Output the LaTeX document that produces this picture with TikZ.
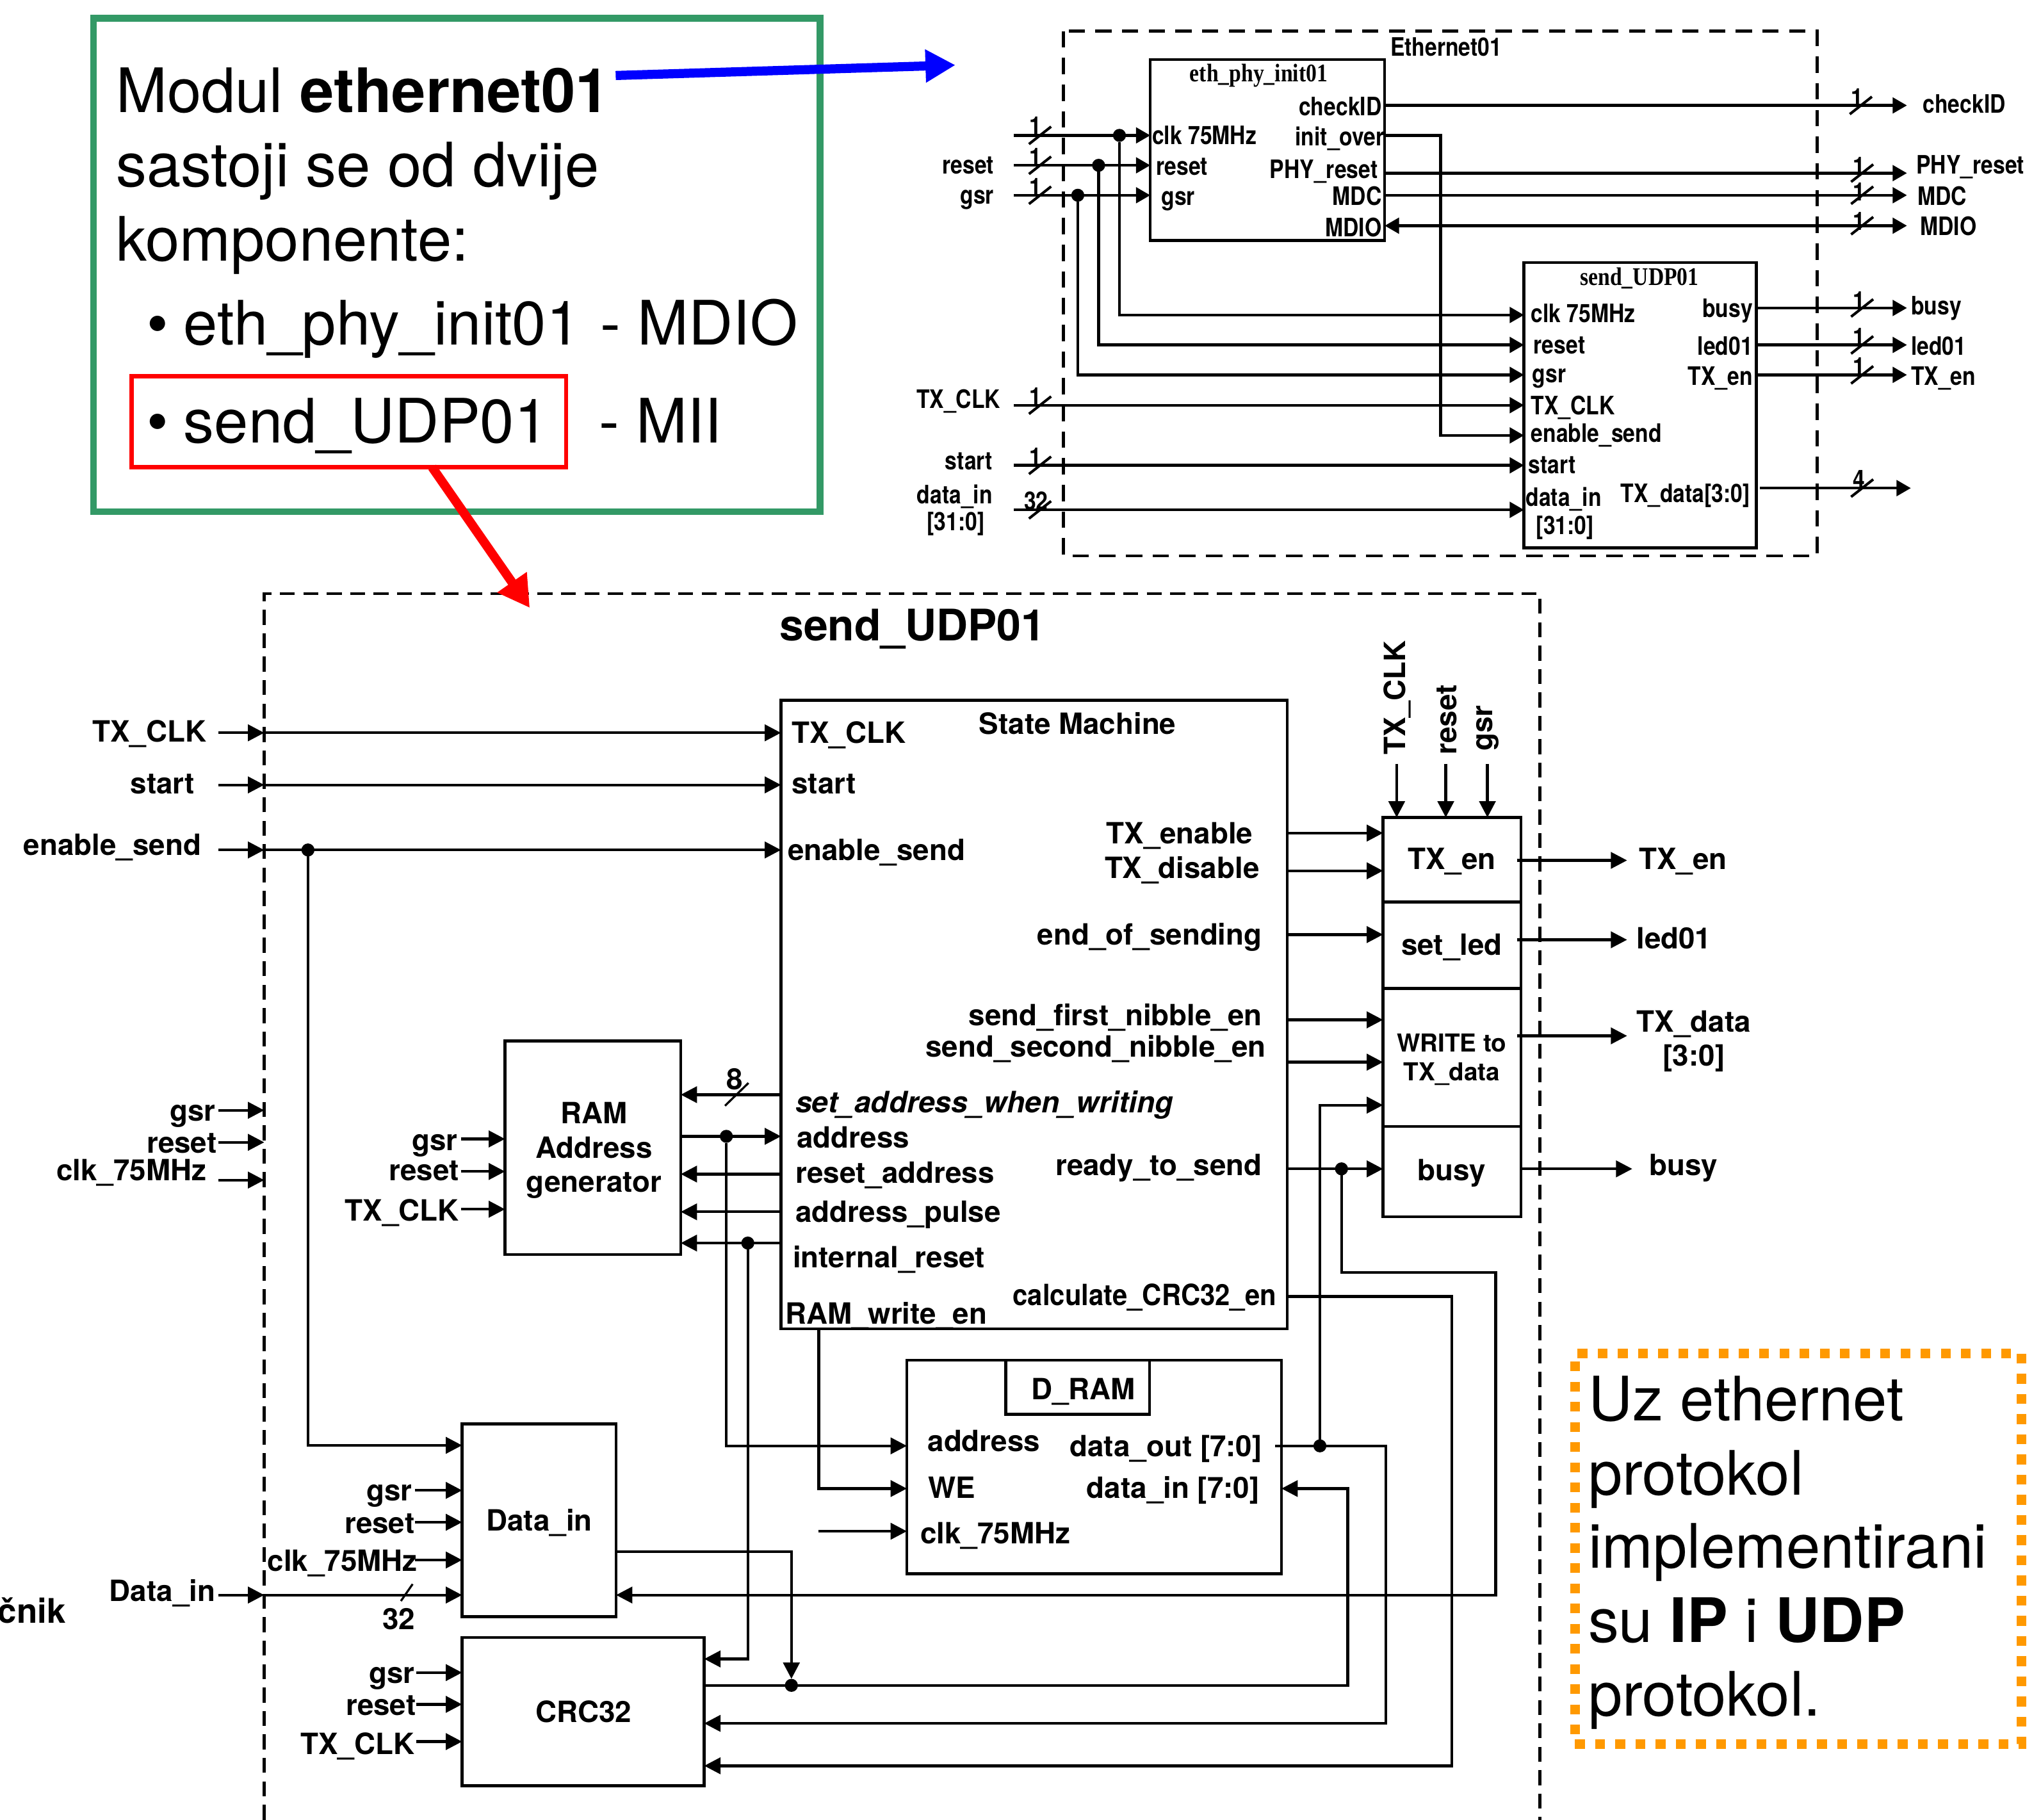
\documentclass[tikz,border=0pt]{standalone}
\usepackage{fontspec}
\usetikzlibrary{arrows.meta,calc}
\setmainfont{TeX Gyre Heros}
\newfontfamily\nar[FakeStretch=0.85]{TeX Gyre Heros}
\newfontfamily\narb[FakeStretch=0.915]{TeX Gyre Heros}
\newfontfamily\sernar[FakeStretch=0.85]{Liberation Serif}
\definecolor{cgreen}{HTML}{339966}
\definecolor{cblue}{HTML}{0000FF}
\definecolor{cred}{HTML}{FF0000}
\definecolor{corange}{HTML}{FF9900}
\tikzset{
  x=1pt,y=-1pt,
  big/.style={font=\fontsize{47.1}{50}\selectfont,inner sep=0pt,anchor=base west},
  lt/.style={font=\bfseries\fontsize{22.5}{26}\selectfont,inner sep=0pt,anchor=base west,yshift=-1pt},
  lte/.style={lt,anchor=base east,xshift=0.7pt},
  ltc/.style={lt,anchor=base,xshift=0.3pt},
  tt/.style={font=\nar\bfseries\fontsize{19.5}{22}\selectfont,inner sep=0pt,anchor=base west,yshift=-0.8pt},
  tte/.style={tt,anchor=base east,xshift=0.7pt},
  ttc/.style={tt,anchor=center},
  boxst/.style={draw=black,line width=2.2pt,inner sep=0pt,outer sep=0pt,anchor=north west},
  atop/.style={line width=2.2pt,-{Triangle[length=11pt,width=12pt]}},
  abot/.style={line width=2.1pt,-{Triangle[length=12.5pt,width=12.5pt]}},
  tickst/.style={line width=2pt},
  dotst/.style={circle,fill=black,inner sep=0pt,minimum size=10pt,outer sep=0pt},
}
\newcommand\bx[5]{\pgfmathsetmacro\bw{#4-#2}\pgfmathsetmacro\bh{#5-#3}\node[boxst,minimum width=\bw pt,minimum height=\bh pt] (#1) at (#2,#3) {};}
\newcommand\tk[2]{\draw[tickst,shift={(#1,#2)}] (-8.5,6.7) -- (8.5,-6.7);}
\begin{document}
\begin{tikzpicture}
\useasboundingbox (0,0) rectangle (1568,1398);
% ---------- callout
\bx{callout}{72}{14}{630}{393}
\draw[cgreen,line width=5pt] (callout.north west) rectangle (callout.south east);
\node[big] (c1) at (89,86.5) {Modul \textbf{ethernet01}};
\node[big] (c2) at (89,143.5) {sastoji se od dvije};
\node[big] (c3) at (89,200.5) {komponente:};
\node[big] (c4) at (112.5,265) {•};
\node[big] (c5) at (141,265) {eth\_phy\_init01};
\node[big] (c6) at (461,265) {- MDIO};
\node[big] (c7) at (112.5,340) {•};
\node[big] (c8) at (141,340) {send\_UDP01};
\node[big] (c9) at (460,340) {- MII};
\node[draw=cred,line width=3.2pt,inner sep=0pt,outer sep=0pt,minimum width=334pt,minimum height=70pt,anchor=north west] (redbox) at (101,289) {};
% ---------- Ethernet01 top diagram
\draw[line width=2.3pt,dash pattern=on 12.5pt off 8pt] (817,24) rectangle (1396,427);
\node[tt] (e0) at (1068,42) {Ethernet01};
\bx{eth}{883.7}{45.7}{1063.8}{184.7}
\bx{ud}{1170.8}{201.7}{1349.3}{420.9}
\node[anchor=center,inner sep=0pt,font=\sernar\bfseries\fontsize{19.5}{22}\selectfont] (ethT) at (967,58) {eth\_phy\_init01};
\node[anchor=center,inner sep=0pt,font=\sernar\bfseries\fontsize{19.5}{22}\selectfont] (udT) at (1259.5,214) {send\_UDP01};
\coordinate (iR) at (779,104); \coordinate (iS) at (779,127); \coordinate (iG) at (779,150);
\coordinate (iT) at (779,311.3); \coordinate (iSt) at (779,357.5); \coordinate (iD) at (779,391.7);
\node[dotst] (dA) at (860,104) {};
\node[dotst] (dB) at (844,127) {};
\node[dotst] (dC) at (828,150) {};
\draw[atop] (iR) -- (eth.west |- iR);
\draw[atop] (iS) -- (eth.west |- iS);
\draw[atop] (iG) -- (eth.west |- iG);
\draw[atop] (dA) |- (ud.west |- 0,242);
\draw[atop] (dB) |- (ud.west |- 0,265);
\draw[atop] (dC) |- (ud.west |- 0,288);
\draw[atop] (iT) -- (ud.west |- iT);
\draw[atop] (iSt) -- (ud.west |- iSt);
\draw[atop] (iD) -- (ud.west |- iD);
\draw[atop] (eth.east |- 0,104) -- (1106.8,104) |- (ud.west |- 0,334.5);
\coordinate (oC) at (1465,81); \coordinate (oP) at (1465,133); \coordinate (oM) at (1465,150); \coordinate (oI) at (1465,173.4);
\coordinate (oB) at (1465,236.6); \coordinate (oL) at (1465,265); \coordinate (oE) at (1465,288); \coordinate (oD) at (1468,375);
\coordinate (oDs) at (1352,375);
\draw[atop] (eth.east |- oC) -- (oC);
\draw[atop] (eth.east |- oP) -- (oP);
\draw[atop] (eth.east |- oM) -- (oM);
\draw[line width=2.2pt,{Triangle[length=11pt,width=12pt]}-{Triangle[length=11pt,width=12pt]}] (eth.east |- oI) -- (oI);
\draw[atop] (ud.east |- oB) -- (oB);
\draw[atop] (ud.east |- oL) -- (oL);
\draw[atop] (ud.east |- oE) -- (oE);
\draw[atop] (oDs) -- (oD);
\tk{799}{104}\tk{799}{127}\tk{799}{150}\tk{799}{311.3}\tk{799}{357.5}\tk{799}{391.7}
\tk{1429.6}{81}\tk{1430.6}{133}\tk{1430.6}{150}\tk{1430.6}{173.4}\tk{1430.6}{236.6}\tk{1430.6}{265}\tk{1430.6}{288}\tk{1430.6}{375}
\node[ttc] (g1) at (795.6,96) {1};
\node[ttc] (g2) at (795.6,120) {1};
\node[ttc] (g3) at (795.6,143) {1};
\node[ttc] (g4) at (795.6,304) {1};
\node[ttc] (g5) at (795.6,350) {1};
\node[ttc] (g6) at (796,384) {32};
\node[ttc] (g7) at (1426.7,74) {1};
\node[ttc] (g8) at (1428,127) {1};
\node[ttc] (g9) at (1428,146.6) {1};
\node[ttc] (g10) at (1428,169) {1};
\node[ttc] (g11) at (1428,230) {1};
\node[ttc] (g12) at (1428,258) {1};
\node[ttc] (g13) at (1428,281) {1};
\node[ttc] (g14) at (1428,367.5) {4};
\node[tt] (t1) at (885,110) {clk 75MHz};
\node[tt] (t2) at (888,134) {reset};
\node[tt] (t3) at (892,157) {gsr};
\node[tte] (t4) at (1061,88) {checkID};
\node[tte] (t5) at (1063,111) {init\_over};
\node[tte] (t6) at (1058,136) {PHY\_reset};
\node[tte] (t7) at (1061,157) {MDC};
\node[tte] (t8) at (1061,181) {MDIO};
\node[tte] (t9) at (763,133) {reset};
\node[tte] (t10) at (763,156) {gsr};
\node[tte] (t11) at (768,313) {TX\_CLK};
\node[tte] (t12) at (762,360) {start};
\node[tte] (t13) at (762,386) {data\_in};
\node[tte] (t14) at (756,407) {[31:0]};
\node[tt] (t15) at (1477,86) {checkID};
\node[tt] (t16) at (1472,133) {PHY\_reset};
\node[tt] (t17) at (1473,157) {MDC};
\node[tt] (t18) at (1475,180) {MDIO};
\node[tt] (t19) at (1468,241) {busy};
\node[tt] (t20) at (1468,272) {led01};
\node[tt] (t21) at (1468,295) {TX\_en};
\node[tt] (t22) at (1176,247) {clk 75MHz};
\node[tt] (t23) at (1178,271) {reset};
\node[tt] (t24) at (1177,293) {gsr};
\node[tt] (t25) at (1176,318) {TX\_CLK};
\node[tt] (t26) at (1176,339) {enable\_send};
\node[tt] (t27) at (1174,363) {start};
\node[tt] (t28) at (1172,388) {data\_in};
\node[tt] (t29) at (1180,410) {[31:0]};
\node[tte] (t30) at (1346,243) {busy};
\node[tte] (t31) at (1346,272) {led01};
\node[tte] (t32) at (1346,295) {TX\_en};
\node[tte] (t33) at (1344,385) {TX\_data[3:0]};
% ---------- send_UDP01 lower diagram
\draw[line width=2.2pt,dash pattern=on 11.5pt off 6.5pt] (203,1398) -- (203,456) -- (1183,456) -- (1183,1398);
\node[lt,anchor=base,font=\bfseries\fontsize{33.4}{36}\selectfont] (title) at (701,491) {send\_UDP01};
\bx{sm}{600}{538}{989}{1021}
\bx{ram}{388}{799.7}{523}{963.7}
\bx{din}{355}{1094}{473.3}{1242}
\bx{crc}{355}{1258}{541}{1372}
\bx{dram}{696.7}{1045}{984.5}{1209}
\bx{dt}{772.7}{1045}{883}{1086.6}
\bx{s1}{1062.5}{628}{1168.4}{693}
\bx{s2}{1062.5}{693}{1168.4}{759.4}
\bx{s3}{1062.5}{759.4}{1168.4}{865.4}
\bx{s4}{1062.5}{865.4}{1168.4}{934.8}
% state machine inputs
\coordinate (bT) at (168,563); \coordinate (bS) at (168,603); \coordinate (bE) at (168,653);
\coordinate (eT) at (203,563); \coordinate (eS) at (203,603); \coordinate (eE) at (203,653);
\foreach \p/\q in {bT/eT,bS/eS,bE/eE}{\draw[abot] (\p) -- (\q);}
\draw[abot] (eT) -- (sm.west |- eT);
\draw[abot] (eS) -- (sm.west |- eS);
\draw[abot] (eE) -- (sm.west |- eE);
\node[dotst] (dE) at (236.6,653) {};
\draw[abot] (dE) |- (din.west |- 0,1110.4);
% outer clocks
\coordinate (g0) at (168,853); \coordinate (g0e) at (203,853);
\coordinate (r0) at (168,877.6); \coordinate (r0e) at (203,877.6);
\coordinate (k0) at (168,906.6); \coordinate (k0e) at (203,906.6);
\draw[abot] (g0) -- (g0e); \draw[abot] (r0) -- (r0e); \draw[abot] (k0) -- (k0e);
% RAM
\draw[abot] (354,875) -- (ram.west |- 0,875);
\draw[abot] (354,900) -- (ram.west |- 0,900);
\draw[abot] (354,929) -- (ram.west |- 0,929);
\draw[abot] (sm.west |- 0,841) -- (ram.east |- 0,841);
\draw[abot] (ram.east |- 0,873) -- (sm.west |- 0,873);
\draw[abot] (sm.west |- 0,902) -- (ram.east |- 0,902);
\draw[abot] (sm.west |- 0,931) -- (ram.east |- 0,931);
\draw[abot] (sm.west |- 0,955) -- (ram.east |- 0,955);
\draw[tickst,line width=1.6pt] (557,849.5) -- (575,832);
\node[dotst] (dAd) at (558,873) {};
\node[dotst] (dIr) at (574.5,955) {};
\draw[abot] (dAd) |- (dram.west |- 0,1110.8);
\draw[abot] (dIr) |- (crc.east |- 0,1274.5);
% D_RAM inputs
\draw[abot] (629,1021) |- (dram.west |- 0,1143.6);
\draw[abot] (628.6,1176.4) -- (dram.west |- 0,1176.4);
% Data_in
\draw[abot] (319,1145) -- (din.west |- 0,1145);
\draw[abot] (319,1169.5) -- (din.west |- 0,1169.5);
\draw[abot] (319,1198.5) -- (din.west |- 0,1198.5);
\coordinate (dI) at (168,1225.4); \coordinate (dIe) at (203,1225.4);
\draw[abot] (dI) -- (dIe);
\draw[abot] (dIe) -- (din.west |- dIe);
\draw[tickst,line width=1.6pt] (308,1230) -- (317,1217);
\node[dotst] (dCrc) at (608,1294.8) {};
\draw[abot] (din.east |- 0,1192) -| (dCrc);
% CRC
\draw[abot] (320,1285) -- (crc.west |- 0,1285);
\draw[abot] (320,1309.4) -- (crc.west |- 0,1309.4);
\draw[abot] (320,1338) -- (crc.west |- 0,1338);
\draw[abot] (crc.east |- 0,1294.8) -- (1035.4,1294.8) |- (dram.east |- 0,1143.6);
\node[dotst] (dOut) at (1014,1110.8) {};
\draw[abot] (979.6,1110.8) -- (1064.8,1110.8) |- (crc.east |- 0,1324);
\draw[abot] (dOut) |- (s3.west |- 0,849);
\draw[abot] (sm.east |- 0,996) -- (1115.4,996) |- (crc.east |- 0,1356.6);
\node[dotst] (dRts) at (1030.6,898) {};
\draw[abot] (dRts) |- (1149,977.6) |- (din.east |- 0,1225.4);
% state machine to stack
\draw[abot] (sm.east |- 0,640) -- (s1.west |- 0,640);
\draw[abot] (sm.east |- 0,669) -- (s1.west |- 0,669);
\draw[abot] (sm.east |- 0,718) -- (s2.west |- 0,718);
\draw[abot] (sm.east |- 0,783.5) -- (s3.west |- 0,783.5);
\draw[abot] (sm.east |- 0,816) -- (s3.west |- 0,816);
\draw[abot] (sm.east |- 0,898) -- (s4.west |- 0,898);
% top inputs
\draw[abot] (1073,586.8) -- (s1.north -| 1073,0);
\draw[abot] (1110.7,586.8) -- (s1.north -| 1110.7,0);
\draw[abot] (1142.7,586.8) -- (s1.north -| 1142.7,0);
% outputs
\draw[abot] (1165.4,661) -- (1250,661);
\draw[abot] (1165.4,722) -- (1250,722);
\draw[abot] (1165.4,795.8) -- (1250,795.8);
\draw[abot] (1169.5,898) -- (1254,898);
% lower labels
\node[lte] (l1) at (158,569) {TX\_CLK};
\node[lte] (l2) at (149,609) {start};
\node[lte] (l3) at (154,656) {enable\_send};
\node[lt] (l4) at (608,570) {TX\_CLK};
\node[lt] (l5) at (752,563) {State Machine};
\node[lt] (l6) at (608,609) {start};
\node[lt] (l7) at (605,660) {enable\_send};
\node[lte] (l8) at (962,647) {TX\_enable};
\node[lte] (l9) at (967,674) {TX\_disable};
\node[lte] (l10) at (969,725) {end\_of\_sending};
\node[lte] (l11) at (969,787) {send\_first\_nibble\_en};
\node[lte] (l12) at (972,811) {send\_second\_nibble\_en};
\node[lt,font=\bfseries\itshape\fontsize{22.7}{26}\selectfont] (l13) at (611,854) {set\_address\_when\_writing};
\node[lt] (l14) at (612,881) {address};
\node[lt] (l15) at (611,908) {reset\_address};
\node[lte] (l16) at (969,902) {ready\_to\_send};
\node[lt] (l17) at (611,938) {address\_pulse};
\node[lt] (l18) at (609,973) {internal\_reset};
\node[lt] (l19) at (603,1016) {RAM\_write\_en};
\node[lte,font=\narb\bfseries\fontsize{22.5}{26}\selectfont] (l20) at (980,1002) {calculate\_CRC32\_en};
\node[ltc] (l21) at (456,862) {RAM};
\node[ltc] (l22) at (456,889) {Address};
\node[ltc] (l23) at (456,915) {generator};
\node[lte] (l24) at (351,883) {gsr};
\node[lte] (l25) at (352,906) {reset};
\node[lte] (l26) at (352,937) {TX\_CLK};
\node[lte] (l27) at (165,860) {gsr};
\node[lte] (l28) at (166,885) {reset};
\node[lte] (l29) at (158,906) {clk\_75MHz};
\node[ltc] (l30) at (414,1175) {Data\_in};
\node[lte] (l31) at (316,1152) {gsr};
\node[lte] (l32) at (318,1177) {reset};
\node[lte] (l33) at (320,1206) {clk\_75MHz};
\node[lte] (l34) at (165,1229) {Data\_in};
\node[lte,font=\bfseries\fontsize{26}{28}\selectfont] (l35) at (50,1246) {čnik};
\node[ltc] (l36) at (306,1251) {32};
\node[ltc] (l37) at (448,1322) {CRC32};
\node[lte] (l38) at (318,1292) {gsr};
\node[lte] (l39) at (319,1317) {reset};
\node[lte] (l40) at (318,1347) {TX\_CLK};
\node[ltc] (l41) at (832,1074) {D\_RAM};
\node[lt] (l42) at (712.5,1114) {address};
\node[lte] (l43) at (969,1118) {data\_out [7:0]};
\node[lt] (l44) at (713,1150) {WE};
\node[lte] (l45) at (967,1150) {data\_in [7:0]};
\node[lt] (l46) at (707,1185) {clk\_75MHz};
\node[lt,rotate=90,yshift=1pt,xshift=1pt] (l47) at (1080.6,580) {TX\_CLK};
\node[lt,rotate=90,yshift=1pt,xshift=1pt] (l48) at (1120,580) {reset};
\node[lt,rotate=90,yshift=1pt,xshift=1pt] (l49) at (1147.7,577) {gsr};
\node[ltc] (l50) at (1115,667) {TX\_en};
\node[ltc] (l51) at (1115,733) {set\_led};
\node[ltc,font=\bfseries\fontsize{19}{22}\selectfont] (l52) at (1115,807) {WRITE to};
\node[ltc,font=\bfseries\fontsize{19}{22}\selectfont] (l53) at (1115,829) {TX\_data};
\node[ltc] (l54) at (1115,906) {busy};
\node[lt] (l55) at (1259,667) {TX\_en};
\node[lt] (l56) at (1257,728) {led01};
\node[ltc] (l57) at (1301,792) {TX\_data};
\node[ltc] (l58) at (1301,818) {[3:0]};
\node[lt] (l59) at (1267,902) {busy};
\node[ltc] (l60) at (564,836) {8};
% ---------- orange note
\node[draw=corange,line width=7.5pt,dash pattern=on 7.5pt off 8pt,inner sep=0pt,outer sep=0pt,minimum width=343pt,minimum height=300pt,anchor=north west] (note) at (1210,1040) {};
\node[big] (n1) at (1220,1091.5) {Uz ethernet};
\node[big] (n2) at (1220,1148.5) {protokol};
\node[big] (n3) at (1220,1204.5) {implementirani};
\node[big] (n4) at (1220,1261.5) {su \textbf{IP} i \textbf{UDP}};
\node[big] (n5) at (1220,1318.5) {protokol.};
% ---------- callout arrows
\coordinate (blueTip) at (734,50);
\coordinate (redTip) at (407,467);
\draw[cblue,line width=7pt,-{Triangle[length=23pt,width=24pt]}] (473,58) -- (blueTip);
\draw[cred,line width=7pt,-{Triangle[length=24pt,width=26pt]}] (redbox.south -| 332,0) -- (redTip);
\end{tikzpicture}
\end{document}
